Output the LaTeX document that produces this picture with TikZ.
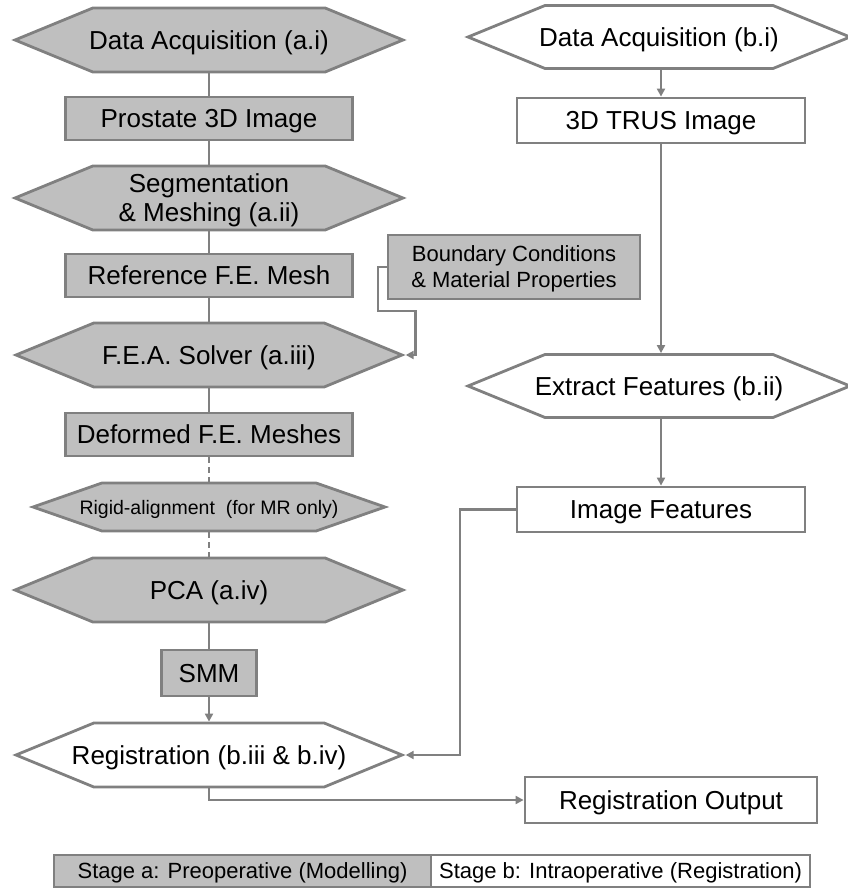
\documentclass[tikz,border=0pt]{standalone}
\usepackage{fontspec}
\setmainfont{Liberation Sans}
\usetikzlibrary{shapes.symbols,arrows.meta}
\definecolor{boxgray}{HTML}{BFBFBF}
\definecolor{linegray}{HTML}{808080}
\newcommand{\twolines}[2]{\begin{tabular}[b]{@{}c@{}}#1\\#2\end{tabular}}
\tikzset{
  base/.style={draw=linegray, line width=2.8pt, inner sep=0pt, text=black},
  bigfont/.style={font=\fontsize{26}{29}\selectfont, text height=18.6pt, text depth=0pt},
  midfont/.style={font=\fontsize{22}{26}\selectfont, text height=15.75pt, text depth=0pt},
  smallfont/.style={font=\fontsize{19.5}{22}\selectfont, text height=14pt, text depth=0pt},
  rectbox/.style={base, rectangle, bigfont},
  hexbox/.style={base, signal, signal to=west and east, bigfont},
  gfill/.style={fill=boxgray},
  wfill/.style={fill=white},
  conn/.style={draw=linegray, line width=2.8pt},
  arr/.style={conn, -{Triangle[length=8pt,width=8pt]}},
}
\begin{document}
\begin{tikzpicture}[x=1pt,y=-1pt]
\useasboundingbox (0,0) rectangle (847,888);
% left column
\node[hexbox,gfill,signal pointer angle=44.7,minimum width=388,minimum height=64] (dai) at (209,40) {\makebox[0pt]{Data Acquisition (a.i)}};
\node[rectbox,gfill,minimum width=287,minimum height=43] (p3d) at (209,118.5) {Prostate 3D Image};
\node[hexbox,gfill,signal pointer angle=44.7,minimum width=388,minimum height=64,text height=47.6pt] (seg) at (209,198) {\makebox[0pt]{\twolines{Segmentation}{\& Meshing (a.ii)}}};
\node[rectbox,gfill,minimum width=287,minimum height=43] (ref) at (209,275.5) {Reference F.E. Mesh};
\node[hexbox,gfill,signal pointer angle=44.7,minimum width=386,minimum height=64] (fea) at (209,355) {\makebox[0pt]{F.E.A. Solver (a.iii)}};
\node[rectbox,gfill,minimum width=287,minimum height=43] (def) at (209,434.5) {Deformed F.E. Meshes};
\node[hexbox,gfill,smallfont,signal pointer angle=38.4,minimum width=352,minimum height=48] (rig) at (209,507) {\makebox[0pt]{Rigid-alignment~~(for MR only)}};
\node[hexbox,gfill,signal pointer angle=44.7,minimum width=388,minimum height=64] (pca) at (209,590) {\makebox[0pt]{PCA (a.iv)}};
\node[rectbox,gfill,minimum width=95,minimum height=46] (smm) at (209,673) {SMM};
\node[hexbox,wfill,signal pointer angle=44.7,minimum width=386,minimum height=64] (reg) at (209,755) {\makebox[0pt]{Registration (b.iii \& b.iv)}};
% boundary conditions
\node[base,rectangle,gfill,midfont,minimum width=252,minimum height=64,text height=41.8pt] (bc) at (514,267) {\twolines{Boundary Conditions}{\& Material Properties}};
% right column
\node[hexbox,wfill,signal pointer angle=44.5,minimum width=382,minimum height=63] (dbi) at (659,37) {\makebox[0pt]{Data Acquisition (b.i)}};
\node[rectbox,wfill,minimum width=288,minimum height=45] (trus) at (661,120.5) {3D TRUS Image};
\node[hexbox,wfill,signal pointer angle=44.5,minimum width=382,minimum height=63] (ext) at (659,386) {\makebox[0pt]{Extract Features (b.ii)}};
\node[rectbox,wfill,minimum width=288,minimum height=45] (imf) at (661,509.5) {Image Features};
\node[rectbox,wfill,minimum width=292,minimum height=46] (out) at (671,800) {Registration Output};
% legend
\node[base,rectangle,gfill,midfont,minimum width=377,minimum height=32] (lega) at (242.5,871) {Stage a: Preoperative (Modelling)};
\node[base,rectangle,wfill,midfont,minimum width=379,minimum height=32] (legb) at (620.5,871) {Stage b: Intraoperative (Registration)};
% connectors left column
\draw[conn] (dai.south) -- (p3d.north);
\draw[conn] (p3d.south) -- (seg.north);
\draw[conn] (seg.south) -- (ref.north);
\draw[conn] (ref.south) -- (fea.north);
\draw[conn] (fea.south) -- (def.north);
\draw[conn,dash pattern=on 6pt off 4pt] (def.south) -- (rig.north);
\draw[conn,dash pattern=on 6pt off 4pt] (rig.south) -- (pca.north);
\draw[conn] (pca.south) -- (smm.north);
\draw[arr] (smm.south) -- (reg.north);
% boundary connector
\draw[arr] (bc.west) -| (378,311) -| ([xshift=10]fea.east) -- (fea.east);
% right column connectors
\draw[arr] (dbi.south -| trus.north) -- (trus.north);
\draw[arr] (trus.south) -- (trus.south |- ext.north);
\draw[arr] (trus.south |- ext.south) -- (imf.north);
\draw[arr] (imf.west) -| (460,700) |- (reg.east);
\draw[arr] (reg.south) |- (out.west);
\end{tikzpicture}
\end{document}
